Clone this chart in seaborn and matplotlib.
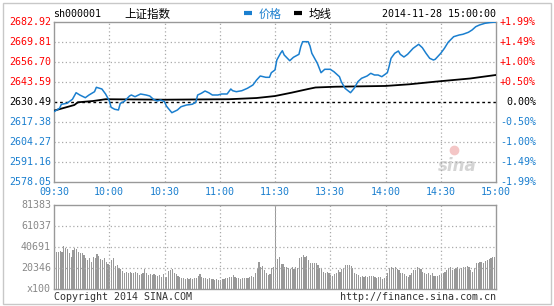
import numpy as np
import pandas as pd
import matplotlib
matplotlib.use("Agg")
import matplotlib.pyplot as plt
import matplotlib.transforms as mtransforms
from matplotlib.patches import Rectangle
import seaborn as sns

# ---------------- data ----------------
price_minutes = [0, 3, 4, 7, 10, 12, 14, 17, 19, 22, 23, 26, 28, 30, 31, 33, 35, 36, 38, 41,
                 42, 44, 47, 50, 52, 54, 56, 58, 60, 61, 62, 64, 67, 69, 72, 75, 77, 78, 80, 82,
                 84, 86, 89, 91, 94, 96, 97, 99, 102, 105, 108, 110, 112, 115, 117, 118, 120, 121, 123, 124,
                 125, 128, 130, 133, 134, 135, 138, 139, 140, 143, 145, 147, 150, 152, 155, 156, 158, 161, 163, 165,
                 167, 170, 172, 174, 176, 178, 181, 182, 183, 185, 187, 188, 190, 192, 195, 198, 200, 202, 204, 206,
                 207, 210, 212, 214, 217, 220, 222, 225, 227, 229, 231, 234, 237, 240]
price_values = [2624.13, 2626.36, 2628.98, 2629.63, 2632.25, 2636.58, 2635.07, 2633.30, 2635.07, 2637.24,
                2640.12, 2639.01, 2635.73, 2631.34, 2627.01, 2625.70, 2625.24, 2629.63, 2630.68, 2634.42,
                2635.07, 2633.96, 2635.73, 2635.07, 2634.42, 2632.25, 2631.14, 2631.80, 2630.68, 2627.86,
                2626.36, 2623.47, 2625.24, 2627.40, 2628.52, 2628.98, 2630.29, 2635.07, 2636.19, 2637.69,
                2636.58, 2635.07, 2635.07, 2635.73, 2635.73, 2639.01, 2637.89, 2637.24, 2637.89, 2639.46,
                2641.63, 2644.90, 2647.53, 2646.67, 2646.67, 2649.69, 2651.50, 2658.01, 2662.40, 2664.11,
                2661.29, 2657.55, 2659.78, 2661.75, 2666.73, 2670.01, 2670.01, 2667.19, 2662.40, 2655.85,
                2649.69, 2651.92, 2651.92, 2650.34, 2647.07, 2643.79, 2639.46, 2636.58, 2639.46, 2643.79,
                2646.02, 2647.53, 2649.30, 2648.18, 2648.18, 2647.07, 2649.69, 2654.00, 2659.13, 2662.40,
                2663.91, 2661.75, 2659.98, 2661.75, 2665.68, 2668.30, 2666.08, 2662.40, 2659.13, 2658.01,
                2658.47, 2662.40, 2665.68, 2669.61, 2673.29, 2674.40, 2674.86, 2676.17, 2677.68, 2679.84,
                2680.95, 2682.07, 2682.60, 2682.92]

avg_minutes = [0, 11, 13, 21, 28, 60, 95, 110, 117, 120, 129, 138, 142, 153, 180, 193, 207, 226, 240]
avg_values = [2624.8, 2628.5, 2630.3, 2631.1, 2632.3, 2632.0, 2632.3, 2633.1, 2634.0, 2634.4,
              2636.6, 2639.0, 2640.0, 2640.5, 2641.0, 2642.1, 2643.8, 2645.9, 2648.2]

prev_close = 2630.49

volume_values = [
    73300, 36200, 35500, 36800, 36200, 41700, 39400, 38400, 35200, 31300,
    37800, 39400, 38400, 36200, 35200, 35200, 33000, 29700, 28100, 29700,
    26500, 31300, 29700, 33900, 32000, 28800, 28100, 29700, 26500, 24200,
    23300, 28100, 29700, 22300, 23300, 20000, 19100, 17800, 15800, 16800,
    15200, 16800, 15800, 15200, 16800, 15200, 13600, 14500, 15200, 19100,
    15800, 13600, 14500, 13600, 14200, 13600, 12600, 13600, 12000, 14200,
    10300, 12000, 17800, 18400, 19100, 15800, 14200, 12600, 12000, 11000,
    10300, 9400, 10300, 9700, 10300, 9400, 11000, 10300, 12600, 14200,
    12000, 11000, 10300, 9400, 11000, 9400, 9400, 8700, 10000, 8700,
    8700, 9400, 9400, 11000, 10300, 12000, 11300, 13600, 12000, 10300,
    10300, 9700, 10300, 11000, 10300, 11000, 12000, 12600, 12000, 15200,
    19100, 26500, 21000, 22300, 18400, 15200, 13600, 14200, 20000, 21600,
    81383,
    28750, 30690, 24230, 24230, 21000, 21000, 20030, 19060, 21000, 19060,
    21650, 20030, 29720, 31340, 32950, 30690, 31980, 28100, 25520, 24880,
    25520, 24880, 23260, 20030, 19060, 16800, 15830, 16800, 15190, 13580,
    12600, 14540, 15190, 18420, 16800, 19060, 20030, 23260, 23260, 23260,
    22290, 20030, 15190, 14220, 13580, 11960, 12930, 11960, 12600, 11960,
    12600, 12600, 12600, 11960, 10990, 11960, 11960, 9380, 10990, 12600,
    15190, 20030, 21000, 20030, 21000, 19060, 18420, 15830, 15190, 14540,
    12600, 11960, 13580, 15830, 18420, 18420, 21000, 20030, 19060, 16800,
    15830, 14540, 15190, 13580, 15190, 12600, 12600, 12600, 13580, 14540,
    15190, 16800, 18420, 20030, 21000, 18420, 19060, 20030, 21000, 19060,
    20030, 21000, 21650, 22290, 21000, 18420, 16800, 20030, 25520, 24880,
    26490, 26490, 25520, 27460, 28100, 28750, 29720, 30690, 31340, 31980,
]
volume_minutes = list(range(len(volume_values)))

price_ticks = [2682.92, 2669.81, 2656.70, 2643.59, 2630.49, 2617.38, 2604.27, 2591.16, 2578.05]
pct_labels = ['+1.99%', '+1.49%', '+1.00%', '+0.50%', '0.00%', '-0.50%', '-1.00%', '-1.49%', '-1.99%']
time_ticks = [0, 30, 60, 90, 120, 150, 180, 210, 240]
time_labels = ['09:30', '10:00', '10:30', '11:00', '11:30', '13:30', '14:00', '14:30', '15:00']
vol_ticks = [81383, 61037, 40691, 20346, 0]
vol_labels = ['81383', '61037', '40691', '20346', 'x100']

# ---------------- style ----------------
sns.set_theme(style="white")
plt.rcParams['font.family'] = ['DejaVu Sans Mono', 'Noto Sans CJK SC']

W, H = 554, 306
fig = plt.figure(figsize=(W / 100, H / 100), dpi=100)
fig.patch.set_facecolor('white')

def fx(px):
    return px / W

def fy(py):
    return 1 - py / H

ax = fig.add_axes([fx(54), fy(182), fx(496) - fx(54), fy(22) - fy(182)])
axv = fig.add_axes([fx(54), fy(289), fx(496) - fx(54), fy(205) - fy(289)])

BLUE = '#1a7fcf'
RED = '#ff0000'
GRID = '#aaaaaa'
FRAME = '#999999'
mono = 7.2

# ---------------- price panel ----------------
ax.set_xlim(0, 240)
ax.set_ylim(price_ticks[-1], price_ticks[0])
for t in time_ticks[1:-1]:
    ax.axvline(t, color=GRID, lw=0.9, ls=(0, (1, 2)), zorder=1)
for p in price_ticks[1:-1]:
    if abs(p - prev_close) < 0.01:
        continue
    ax.axhline(p, color=GRID, lw=0.9, ls=(0, (1, 2)), zorder=1)
ax.axhline(prev_close, color='black', lw=1.0, ls=(0, (2, 2)), zorder=2)

pdf = pd.DataFrame({'t': price_minutes, 'p': price_values})
adf = pd.DataFrame({'t': avg_minutes, 'p': avg_values})
sns.lineplot(data=adf, x='t', y='p', ax=ax, color='black', lw=1.3, zorder=3)
sns.lineplot(data=pdf, x='t', y='p', ax=ax, color=BLUE, lw=1.1, zorder=4)
ax.set_xlabel('')
ax.set_ylabel('')
ax.set_xticks([])
ax.set_yticks([])
for s in ax.spines.values():
    s.set_color(FRAME)
    s.set_linewidth(1.0)

left_tr = mtransforms.blended_transform_factory(fig.transFigure, ax.transData)
for p, pl in zip(price_ticks, pct_labels):
    if p > prev_close + 0.01:
        c = RED
    elif p < prev_close - 0.01:
        c = BLUE
    else:
        c = 'black'
    ax.text(fx(51), p, f'{p:.2f}', transform=left_tr, ha='right', va='center',
            fontsize=mono, color=c)
    ax.text(fx(536), p, pl, transform=left_tr, ha='right', va='center',
            fontsize=mono, color=c)

bottom_tr = mtransforms.blended_transform_factory(ax.transData, fig.transFigure)
for t, lab in zip(time_ticks, time_labels):
    ax.text(t, fy(192), lab, transform=bottom_tr, ha='center', va='center',
            fontsize=mono, color=BLUE)

# watermark
ax.text(0.955, 0.1, 'sina', transform=ax.transAxes, ha='right', va='center',
        fontsize=12, color='#d4d4d4', fontweight='bold', style='italic',
        family='DejaVu Sans', zorder=0)
ax.plot([0.905], [0.2], 'o', transform=ax.transAxes, ms=6, color='#f4c6c6', zorder=0)

# ---------------- volume panel ----------------
axv.set_xlim(0, 240)
axv.set_ylim(0, vol_ticks[0])
axv.bar(volume_minutes, volume_values, width=0.62, align='edge', color='#999999',
        linewidth=0, zorder=2)
for t in time_ticks[1:-1]:
    axv.axvline(t, color=GRID, lw=0.9, ls=(0, (1, 2)), zorder=3)
for v in vol_ticks[1:-1]:
    axv.axhline(v, color=GRID, lw=0.9, ls=(0, (1, 2)), zorder=3)
axv.set_xticks([])
axv.set_yticks([])
for s in axv.spines.values():
    s.set_color(FRAME)
    s.set_linewidth(1.0)
vtr = mtransforms.blended_transform_factory(fig.transFigure, axv.transData)
for v, lab in zip(vol_ticks, vol_labels):
    axv.text(fx(51), v, lab, transform=vtr, ha='right', va='center',
             fontsize=mono, color='#888888')

# ---------------- header / footer texts ----------------
fig.text(fx(53), fy(14), 'sh000001', ha='left', va='center', fontsize=mono, color='black')
fig.text(fx(124), fy(14), '上证指数', ha='left', va='center', fontsize=8.3,
         color='black', family=['Noto Sans CJK SC', 'DejaVu Sans'])
fig.lines.append(plt.Line2D([fx(244), fx(252)], [fy(13), fy(13)], transform=fig.transFigure,
                            color=BLUE, lw=3, solid_capstyle='butt'))
fig.text(fx(259), fy(14), '价格', ha='left', va='center', fontsize=8.3,
         color=BLUE, family=['Noto Sans CJK SC', 'DejaVu Sans'])
fig.lines.append(plt.Line2D([fx(294), fx(302)], [fy(13), fy(13)], transform=fig.transFigure,
                            color='black', lw=3, solid_capstyle='butt'))
fig.text(fx(309), fy(14), '均线', ha='left', va='center', fontsize=8.3,
         color='black', family=['Noto Sans CJK SC', 'DejaVu Sans'])
fig.text(fx(496), fy(14), '2014-11-28 15:00:00', ha='right', va='center',
         fontsize=mono, color='black')
fig.text(fx(54), fy(297), 'Copyright 2014 SINA.COM', ha='left', va='center',
         fontsize=mono, color='#333333')
fig.text(fx(496), fy(297), 'http://finance.sina.com.cn', ha='right', va='center',
         fontsize=mono, color='#333333')

# outer border
fig.patches.append(Rectangle((fx(3), fy(304)), fx(551) - fx(3), fy(3) - fy(304),
                             transform=fig.transFigure, fill=False,
                             edgecolor='#c8c8c8', lw=1.0))

fig.savefig('out.png', dpi=100)
